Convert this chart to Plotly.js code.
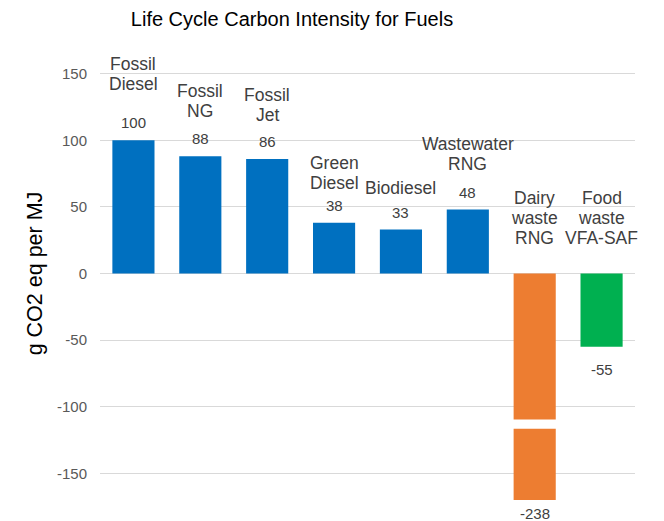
<!DOCTYPE html>
<html>
<head>
<meta charset="utf-8">
<script src="https://cdn.plot.ly/plotly-3.0.1.min.js"></script>
<style>html,body{margin:0;padding:0;background:#fff;}#chart{width:664px;height:521px;}</style>
</head>
<body>
<div id="chart"></div>
<script>
// ---- data ----
const categories = ["Fossil Diesel", "Fossil NG", "Fossil Jet", "Green Diesel", "Biodiesel", "Wastewater RNG", "Dairy waste RNG", "Food waste VFA-SAF"];
const labelLines = [["Fossil", "Diesel"], ["Fossil", "NG"], ["Fossil", "Jet"], ["Green", "Diesel"], ["Biodiesel"], ["Wastewater", "RNG"], ["Dairy", "waste", "RNG"], ["Food", "waste", "VFA-SAF"]];
const values = [100, 88, 86, 38, 33, 48, -238, -55];
const barColors = ["#0070C0", "#0070C0", "#0070C0", "#0070C0", "#0070C0", "#0070C0", "#ED7D31", "#00B050"];
const yTickVals = [-150, -100, -50, 0, 50, 100, 150];

// ---- layout constants (positions / styles) ----
const yRange = [-170, 170];
const catLift = [56, 45, 44, 40, 42, 46, 36, 36];   // px from bar top (or zero) to centre of last label line
const lineStep = 20;                                 // px between label lines
const valOffset = [17.5, 17.5, 17.5, 17.5, 17.5, 17.5, -13, -23];
const breakBand = [-116.5, -109.5];                  // axis-break gap drawn on the clipped bar
const FONT = "Arial, 'Liberation Sans', Helvetica, sans-serif";

const annotations = [];
categories.forEach((c, i) => {
  const lines = labelLines[i];
  const base = Math.max(values[i], 0);
  lines.forEach((ln, j) => {
    annotations.push({
      x: c, y: base, xref: "x", yref: "y",
      text: ln, showarrow: false, xanchor: "center", yanchor: "middle",
      yshift: catLift[i] + (lines.length - 1 - j) * lineStep,
      font: {family: FONT, size: 17.5, color: "#404040"}
    });
  });
  const v = values[i];
  annotations.push({
    x: c, y: Math.max(v, yRange[0]), xref: "x", yref: "y",
    text: String(v), showarrow: false, xanchor: "center", yanchor: "middle",
    yshift: valOffset[i],
    font: {family: FONT, size: 15, color: "#404040"}
  });
});

const brokenIdx = values.findIndex(v => v < yRange[0]);
const shapes = [];
if (brokenIdx >= 0) {
  shapes.push({
    type: "rect", xref: "x", yref: "y", layer: "above",
    x0: brokenIdx - 0.45, x1: brokenIdx + 0.45, y0: breakBand[0], y1: breakBand[1],
    fillcolor: "#ffffff", line: {width: 0}
  });
}

const trace = {
  type: "bar", x: categories, y: values,
  marker: {color: barColors, line: {width: 0}},
  hoverinfo: "x+y", cliponaxis: true
};

const layout = {
  width: 664, height: 521,
  margin: {l: 100, r: 29, t: 47, b: 21},
  paper_bgcolor: "#ffffff", plot_bgcolor: "#ffffff",
  font: {family: FONT, color: "#404040"},
  title: {text: "Life Cycle Carbon Intensity for Fuels", font: {family: FONT, size: 20, color: "#000000"},
          xref: "container", x: 292/664, xanchor: "center", yref: "container", y: 1 - 19/521, yanchor: "middle"},
  bargap: 0.37,
  showlegend: false,
  xaxis: {type: "category", showticklabels: false, showgrid: false, zeroline: false, showline: false, ticks: "", range: [-0.5, categories.length - 0.5], fixedrange: true},
  yaxis: {range: yRange, tickvals: yTickVals, ticktext: yTickVals.map(String), showgrid: true, gridcolor: "#D9D9D9", gridwidth: 1,
          zeroline: false, showline: false, ticks: "", ticklabelstandoff: 12,
          tickfont: {family: FONT, size: 15, color: "#595959"},
          title: {text: "g CO2 eq per MJ", font: {family: FONT, size: 21.5, color: "#000000"}, standoff: 8},
          automargin: false, fixedrange: true},
  annotations: annotations,
  shapes: shapes
};

Plotly.newPlot("chart", [trace], layout, {displayModeBar: false, staticPlot: true});
</script>
</body>
</html>
